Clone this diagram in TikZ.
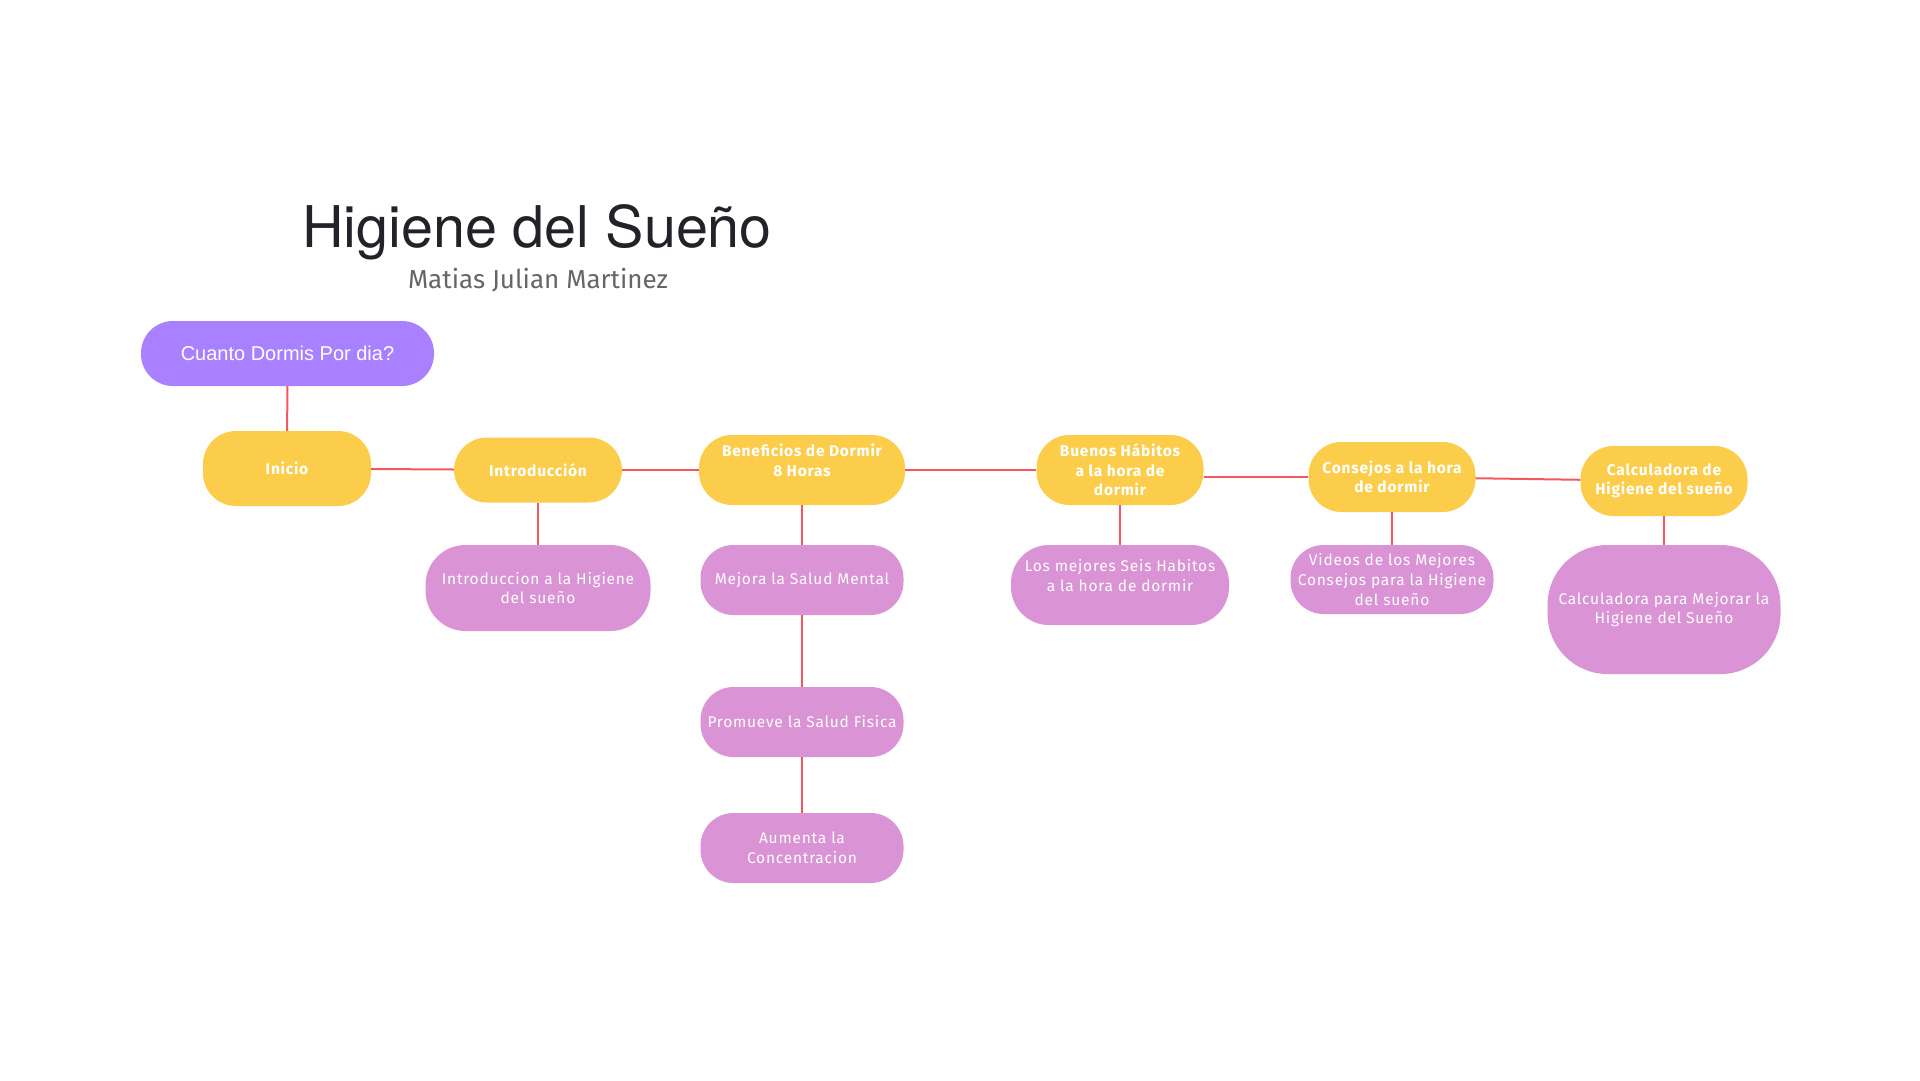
\documentclass[tikz,border=0pt]{standalone}
\usepackage{fontspec}
\setmainfont{Fira Sans}
\newfontfamily\titlefont{TeX Gyre Heros}
\newfontfamily\askfont{Liberation Sans}
\newfontfamily\boxfont[LetterSpace=5]{Fira Sans}
\usepackage{tikz}
\usetikzlibrary{positioning}
\definecolor{topicyellow}{HTML}{FBCD4B}
\definecolor{subpink}{HTML}{DA93D5}
\definecolor{askpurple}{HTML}{A980FF}
\definecolor{linkred}{HTML}{F4585E}
\definecolor{titlegray}{HTML}{222228}
\definecolor{namegray}{HTML}{666666}

\begin{document}
\begin{tikzpicture}[x=1pt, y=-1pt,
        topic/.style={fill=topicyellow, text=white, rounded corners=33pt, minimum width=167pt,
            minimum height=70pt, align=center, inner sep=2pt,
            font=\boxfont\bfseries\fontsize{15.5pt}{19.6pt}\selectfont},
        sub/.style={fill=subpink, text=white, rounded corners=33pt, minimum width=203pt,
            minimum height=70pt, align=center, inner sep=2pt,
            font=\boxfont\fontsize{15.5pt}{19.6pt}\selectfont},
        link/.style={draw=linkred, line width=2pt}]
        \useasboundingbox[fill=white] (0,0) rectangle (1920,1080);

        \node[anchor=base, text=titlegray, font=\titlefont\fontsize{57.5pt}{64pt}\selectfont] (Title) at (537,247) {Higiene del Sueño};
        \node[anchor=base, text=namegray, font=\fontsize{26pt}{31pt}\selectfont] (Author) at (538,288) {Matias Julian Martinez};

        \node[fill=askpurple, text=white, rounded corners=32pt, minimum width=293pt, minimum height=65pt,
            font=\askfont\fontsize{20pt}{24pt}\selectfont] (Ask) at (287.5,353.5) {Cuanto Dormis Por dia?};

        \node[topic, minimum width=168pt, minimum height=75pt] (Inicio) at (287,468.5) {Inicio};
        \node[topic, minimum width=168pt, minimum height=65pt] (Intro) at (538,470) {Introducción};
        \node[topic, minimum width=206pt] (Ben) at (802,470) {Beneficios de Dormir\\8 Horas\\~};
        \node[topic] (Habitos) at (1120,470) {Buenos Hábitos\\a la hora de\\dormir};
        \node[topic] (Consejos) at (1392,477) {Consejos a la hora\\de dormir};
        \node[topic] (Calc) at (1664,481) {Calculadora de\\Higiene del sueño};

        \node[sub, minimum width=225pt, minimum height=86pt, rounded corners=40pt, node distance=118pt] (IntroSub) [below of=Intro] {Introduccion a la Higiene\\del sueño};
        \node[sub, node distance=110pt] (Mental) [below of=Ben] {Mejora la Salud Mental};
        \node[sub, node distance=142pt] (Fisica) [below of=Mental] {Promueve la Salud Fisica};
        \node[sub, node distance=126pt] (Concentra) [below of=Fisica] {Aumenta la\\Concentracion};
        \node[sub, minimum width=218pt, minimum height=80pt, rounded corners=38pt, node distance=115pt] (Seis) [below of=Habitos] {Los mejores Seis Habitos\\a la hora de dormir\\~};
        \node[sub, minimum height=69pt, node distance=102.5pt] (Videos) [below of=Consejos] {Videos de los Mejores\\Consejos para la Higiene\\del sueño};
        \node[sub, minimum width=233pt, minimum height=129pt, rounded corners=60pt, node distance=128.5pt] (CalcSub) [below of=Calc] {Calculadora para Mejorar la\\Higiene del Sueño};

        \draw[link] (Ask) -- (Inicio);
        \draw[link] (Inicio) -- (Intro);
        \draw[link] (Intro) -- (Ben);
        \draw[link] (Ben) -- (Habitos);
        \draw[link] (Consejos.west -| Habitos.east) -- (Consejos.west);
        \draw[link] (Consejos) -- (Calc);
        \draw[link] (Intro) -- (IntroSub);
        \draw[link] (Ben) -- (Mental);
        \draw[link] (Mental) -- (Fisica);
        \draw[link] (Fisica) -- (Concentra);
        \draw[link] (Habitos) -- (Seis);
        \draw[link] (Consejos) -- (Videos);
        \draw[link] (Calc) -- (CalcSub);
    \end{tikzpicture}
\end{document}
